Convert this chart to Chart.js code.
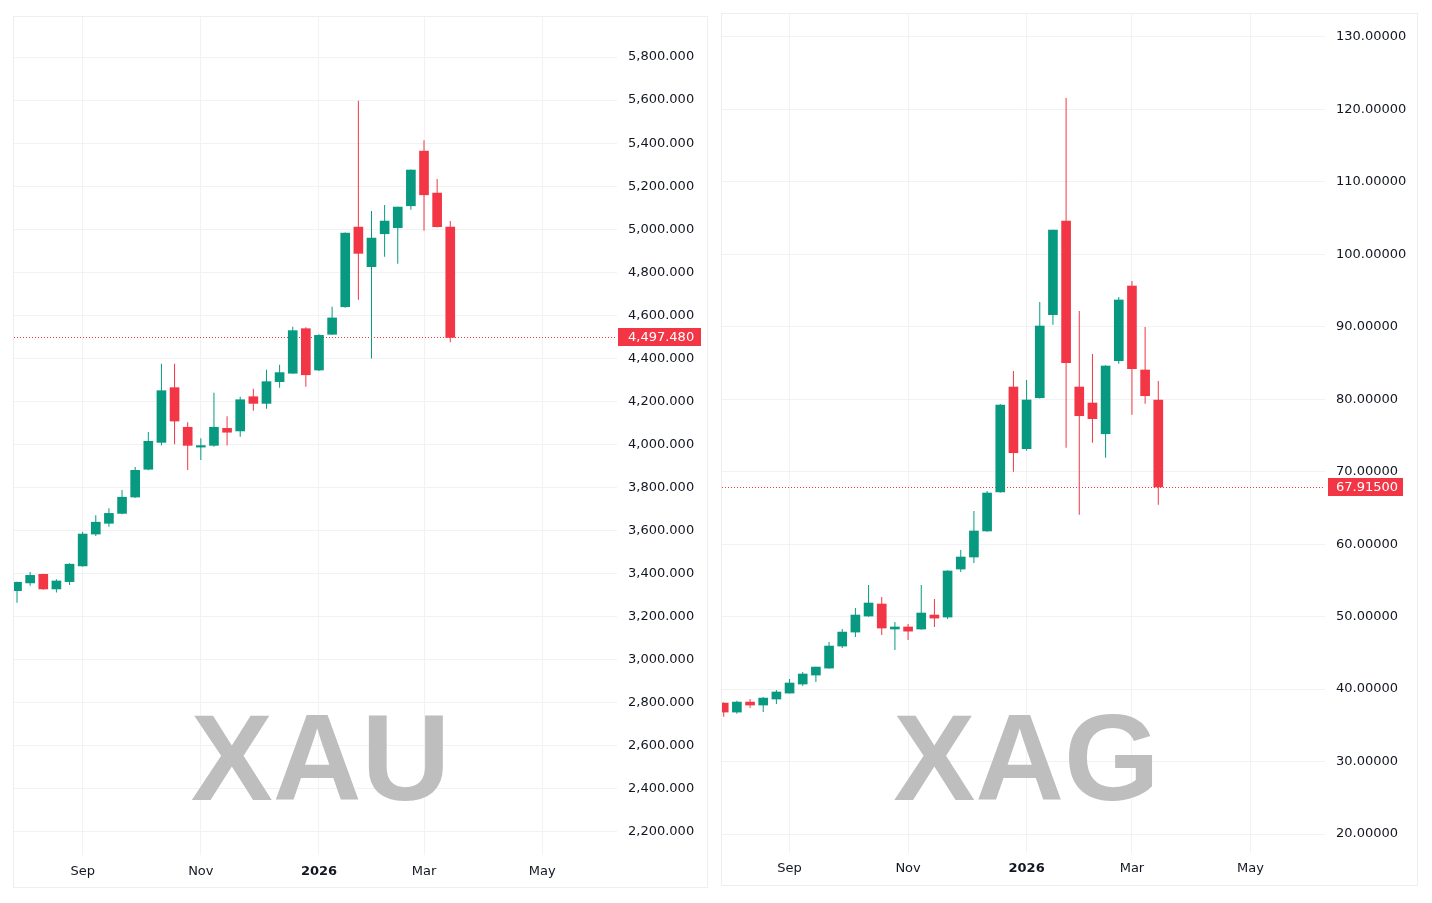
<!DOCTYPE html>
<html>
<head>
<meta charset="utf-8">
<script src="https://cdn.jsdelivr.net/npm/chart.js@4.4.1/dist/chart.umd.min.js"></script>
<style>
html,body{margin:0;padding:0;background:#fff;width:1432px;height:903px;overflow:hidden}
.panel{position:absolute;box-sizing:border-box;border:1px solid #eeeeee;background:#fff}
#p1{left:13px;top:16px;width:695px;height:872px}
#p2{left:721px;top:13px;width:697px;height:873px}
.panel canvas{position:absolute;left:0;top:0}
</style>
</head>
<body>
<div class="panel" id="p1"><canvas id="c1" width="693" height="870"></canvas></div>
<div class="panel" id="p2"><canvas id="c2" width="695" height="871"></canvas></div>
<script>
// ---------- DATA ----------
const weekStarts = ['2025-07-28','2025-08-04','2025-08-11','2025-08-18','2025-08-25','2025-09-01','2025-09-08','2025-09-15','2025-09-22','2025-09-29',
  '2025-10-06','2025-10-13','2025-10-20','2025-10-27','2025-11-03','2025-11-10','2025-11-17','2025-11-24','2025-12-01','2025-12-08',
  '2025-12-15','2025-12-22','2025-12-29','2026-01-05','2026-01-12','2026-01-19','2026-01-26','2026-02-02','2026-02-09','2026-02-16',
  '2026-02-23','2026-03-02','2026-03-09','2026-03-16'];

const xauOpen  = [3321,3357,3397,3329,3363,3436,3584,3634,3680,3756,3885,4010,4264,4080,3988,3996,4075,4063,4222,4191,4292,4331,4538,4346,4512,4640,5010,4826,4979,5007,5109,5363,5168,5010];
const xauHigh  = [3362,3408,3400,3374,3448,3595,3671,3704,3789,3896,4058,4375,4375,4103,4029,4241,4131,4222,4259,4347,4371,4547,4545,4512,4640,4985,5597,5085,5113,5105,5278,5414,5233,5038];
const xauLow   = [3265,3344,3325,3312,3347,3432,3575,3618,3676,3752,3880,3995,4001,3882,3928,3990,3995,4036,4157,4166,4264,4329,4268,4341,4510,4635,4673,4400,4872,4840,5091,4993,5008,4475];
const xauClose = [3360,3392,3329,3366,3444,3584,3639,3680,3755,3880,4015,4250,4109,3996,3995,4080,4057,4208,4191,4292,4334,4529,4324,4507,4588,4982,4888,4959,5038,5103,5275,5160,5012,4497.48];

const xagOpen  = [38.07,36.83,38.21,37.80,38.63,39.45,40.70,41.94,42.90,45.94,47.87,50.08,51.74,48.29,48.57,48.29,50.22,49.94,56.57,58.23,61.82,67.20,81.69,73.18,80.21,91.67,104.60,81.69,79.48,75.24,85.32,95.63,84.04,79.90];
const xagHigh  = [38.20,38.40,38.63,38.90,39.87,41.40,42.35,43.10,46.50,48.29,51.19,54.36,52.70,49.25,48.98,54.36,52.43,56.40,59.20,64.58,67.34,79.35,83.90,82.66,93.42,103.40,121.58,92.18,86.25,84.70,94.11,96.32,89.97,82.52];
const xagLow   = [36.18,36.60,37.40,36.83,37.94,39.40,40.42,40.97,42.80,45.66,47.18,50.00,47.46,45.39,46.77,48.20,48.57,49.67,56.16,57.40,61.70,67.10,70.00,72.90,80.10,90.29,73.31,64.06,74.00,71.93,84.90,77.87,79.39,65.45];
const xagClose = [36.83,38.21,37.80,38.76,39.60,40.84,42.08,43.04,45.94,47.87,50.22,51.88,48.43,48.57,48.00,50.50,49.80,56.30,58.23,61.82,67.06,79.21,72.62,79.90,90.11,103.36,85.04,77.73,77.32,84.59,93.70,84.22,80.49,67.915];

const xTickIndex  = [5, 14, 23, 31, 40];
const xTickLabels = ['Sep', 'Nov', '2026', 'Mar', 'May'];
const xauYTicks = [2200,2400,2600,2800,3000,3200,3400,3600,3800,4000,4200,4400,4600,4800,5000,5200,5400,5600,5800];
const xagYTicks = [20,30,40,50,60,70,80,90,100,110,120,130];

// ---------- STYLE ----------
const UP = '#089981', DOWN = '#f23645';
const GRID = '#f2f2f2';
const TEXT = '#131722';
const AXIS_FONT = "'DejaVu Sans', 'Liberation Sans', sans-serif";

function makeChart(id, cfg) {
  const n = cfg.open.length;
  const colors = cfg.open.map((o, i) => cfg.close[i] >= o ? UP : DOWN);
  const wicks = cfg.open.map((o, i) => ({ x: i, y: [cfg.low[i], cfg.high[i]] }));
  const bodies = cfg.open.map((o, i) => ({ x: i, y: [o, cfg.close[i]] }));
  const lastClose = cfg.close[n - 1];

  const decor = {
    id: 'decor' + id,
    beforeDatasetsDraw(chart) {
      const { ctx, chartArea: a } = chart;
      ctx.save();
      ctx.font = "bold 123px 'Liberation Sans', Arial, sans-serif";
      ctx.fillStyle = '#bebebe';
      ctx.textAlign = 'center';
      ctx.textBaseline = 'alphabetic';
      ctx.fillText(cfg.watermark, a.left + cfg.wmX, a.top + cfg.wmY);
      const y = Math.round(chart.scales.y.getPixelForValue(lastClose)) + 0.5;
      ctx.strokeStyle = DOWN;
      ctx.lineWidth = 1;
      ctx.setLineDash([1, 2]);
      ctx.beginPath();
      ctx.moveTo(a.left, y);
      ctx.lineTo(a.right, y);
      ctx.stroke();
      ctx.restore();
    },
    afterDraw(chart) {
      const { ctx, chartArea: a } = chart;
      const y = chart.scales.y.getPixelForValue(lastClose);
      ctx.save();
      ctx.fillStyle = DOWN;
      ctx.fillRect(a.right + cfg.boxOff, Math.round(y) - 9, cfg.boxW, 18);
      ctx.fillStyle = '#ffffff';
      ctx.font = '13px ' + AXIS_FONT;
      ctx.textAlign = 'left';
      ctx.textBaseline = 'middle';
      ctx.fillText(cfg.fmt(lastClose), a.right + 11, Math.round(y) + 0.5);
      ctx.restore();
    }
  };

  return new Chart(document.getElementById(id), {
    type: 'bar',
    data: {
      datasets: [
        { data: wicks, backgroundColor: colors, barThickness: 1, grouped: false, order: 2, borderWidth: 0, inflateAmount: 0 },
        { data: bodies, backgroundColor: colors, barThickness: 9, grouped: false, order: 1, borderWidth: 0 }
      ]
    },
    options: {
      responsive: false,
      devicePixelRatio: 1,
      animation: false,
      layout: { padding: 0 },
      plugins: { legend: { display: false }, tooltip: { enabled: false } },
      scales: {
        x: {
          type: 'linear',
          min: cfg.xMin, max: cfg.xMax,
          offset: false,
          afterBuildTicks(scale) { scale.ticks = xTickIndex.map(v => ({ value: v })); },
          afterFit(scale) { scale.height = 32; scale.paddingLeft = 0; scale.paddingRight = 0; },
          grid: { color: GRID, drawTicks: false, offset: false },
          border: { display: false },
          ticks: {
            autoSkip: false, maxRotation: 0, padding: cfg.xPad, color: TEXT,
            font: (c) => ({ family: AXIS_FONT, size: 13, weight: (c.tick && c.tick.value === 23) ? 'bold' : 'normal' }),
            callback: (v) => { const k = xTickIndex.indexOf(v); return k >= 0 ? xTickLabels[k] : ''; }
          }
        },
        y: {
          type: 'linear',
          position: 'right',
          min: cfg.yMin, max: cfg.yMax,
          afterBuildTicks(scale) { scale.ticks = cfg.yTicks.map(v => ({ value: v })); },
          afterFit(scale) { scale.width = cfg.yW; scale.paddingTop = 0; scale.paddingBottom = 0; },
          grid: { color: GRID, drawTicks: false },
          border: { display: false },
          ticks: {
            autoSkip: false, padding: 11, color: TEXT,
            font: { family: AXIS_FONT, size: 13 },
            callback: (v) => cfg.fmt(v)
          }
        }
      }
    },
    plugins: [decor]
  });
}

makeChart('c1', {
  open: xauOpen, high: xauHigh, low: xauLow, close: xauClose,
  yTicks: xauYTicks, yMin: 2093, yMax: 5986, yW: 90,
  xMin: -0.23, xMax: 45.7, xPad: 9,
  fmt: (v) => v.toLocaleString('en-US', { minimumFractionDigits: 3, maximumFractionDigits: 3 }),
  watermark: 'XAU', wmX: 306.5, wmY: 783,
  boxOff: 1, boxW: 83
});

makeChart('c2', {
  open: xagOpen, high: xagHigh, low: xagLow, close: xagClose,
  yTicks: xagYTicks, yMin: 17.38, yMax: 133.17, yW: 92,
  xMin: -0.13, xMax: 45.66, xPad: 8,
  fmt: (v) => v.toFixed(5),
  watermark: 'XAG', wmX: 304.5, wmY: 786,
  boxOff: 3, boxW: 75
});
</script>
</body>
</html>
